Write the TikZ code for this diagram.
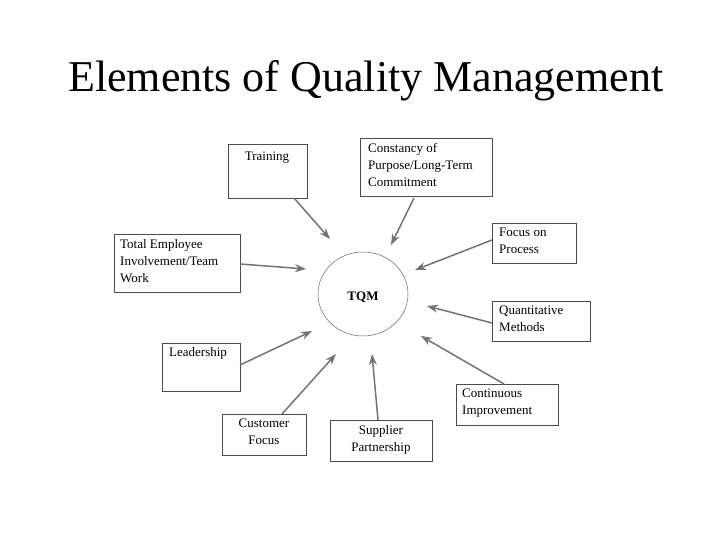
\documentclass[tikz,border=0pt]{standalone}
\usepackage{fontspec}
\setmainfont{Liberation Serif}
\usetikzlibrary{arrows.meta,shapes.geometric}
\begin{document}
\begin{tikzpicture}[x=1pt,y=-1pt,
  box/.style={draw=black!70,line width=0.6pt,inner sep=0pt},
  txt/.style={font=\fontsize{13}{17}\selectfont,inner sep=0pt,align=left},
  arr/.style={draw=black!55,line width=1.5pt,-{Stealth[length=11pt,width=8pt]}}]
\useasboundingbox (0,0) rectangle (720,540);
\node[anchor=base west,font=\fontsize{44}{50}\selectfont,inner sep=0pt] (title) at (68,92) {Elements of Quality Management};
\node[box,minimum width=79pt,minimum height=54pt] (tr) at (267.5,171) {};
\node[box,minimum width=132pt,minimum height=58pt] (co) at (426,167) {};
\node[box,minimum width=84pt,minimum height=40pt] (fp) at (534,243) {};
\node[box,minimum width=126pt,minimum height=58pt] (te) at (177,263) {};
\node[draw=black!60,line width=0.5pt,ellipse,minimum width=90pt,minimum height=84pt,inner sep=0pt] (tqm) at (363,294) {};
\node[font=\fontsize{13}{15}\selectfont\bfseries] (tqmt) at (363,297) {TQM};
\node[box,minimum width=98pt,minimum height=40pt] (qm) at (541,321) {};
\node[box,minimum width=78pt,minimum height=48pt] (le) at (201,367) {};
\node[box,minimum width=84pt,minimum height=41pt] (cf) at (264,434.5) {};
\node[box,minimum width=102pt,minimum height=41pt] (sp) at (381,440.5) {};
\node[box,minimum width=102pt,minimum height=41pt] (ci) at (507,404.5) {};
\node[txt,anchor=north] (trt) at (267,152) {Training};
\node[txt,anchor=north west] (cot) at (368,143) {Constancy of\\Purpose/Long-Term\\Commitment};
\node[txt,anchor=north west] (fpt) at (499,228) {Focus on\\Process};
\node[txt,anchor=north west] (tet) at (120,239) {Total Employee\\Involvement/Team\\Work};
\node[txt,anchor=north west] (qmt) at (499,306) {Quantitative\\Methods};
\node[txt,anchor=north west] (let) at (169,347) {Leadership};
\node[txt,anchor=north,align=center] (cft) at (264,419) {Customer\\Focus};
\node[txt,anchor=north,align=center] (spt) at (381,425) {Supplier\\Partnership};
\node[txt,anchor=north west] (cit) at (462,389) {Continuous\\Improvement};
\coordinate (a1) at (294,198); \coordinate (b1) at (330,239);
\coordinate (a2) at (414,198); \coordinate (b2) at (391,245);
\coordinate (a3) at (492,240); \coordinate (b3) at (415,270);
\coordinate (a4) at (240,264); \coordinate (b4) at (306,269);
\coordinate (a5) at (492,323); \coordinate (b5) at (427,306);
\coordinate (a6) at (240,365); \coordinate (b6) at (312,331);
\coordinate (a7) at (282,414); \coordinate (b7) at (336,354);
\coordinate (a8) at (378,420); \coordinate (b8) at (372,354);
\coordinate (a9) at (504,384); \coordinate (b9) at (421,336);
\foreach \i in {1,...,9} \draw[arr] (a\i) -- (b\i);
\end{tikzpicture}
\end{document}
